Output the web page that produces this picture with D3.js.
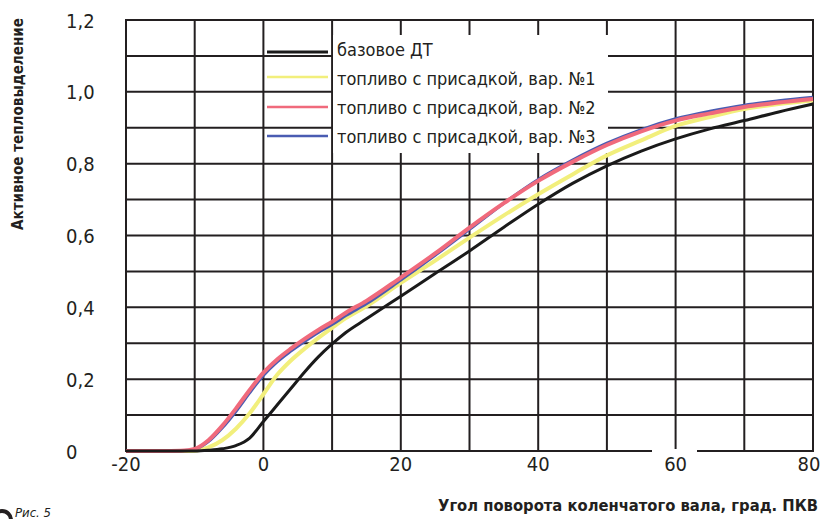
<!DOCTYPE html>
<html>
<head>
<meta charset="utf-8">
<script src="https://cdn.jsdelivr.net/npm/d3@7"></script>
<style>
  html, body { margin: 0; padding: 0; background: #fff; }
  svg { display: block; }
  text { font-family: "DejaVu Sans Condensed", "Liberation Sans", sans-serif; fill: #231f20; }
  text.title { font-family: "DejaVu Sans Condensed", "Liberation Sans", sans-serif; font-weight: bold; }
</style>
</head>
<body>
<svg id="chart" width="823" height="519"></svg>
<script>
// Crank angle, degrees
const angles = [-20, -15, -12, -10, -8, -6, -4, -2, 0, 2, 4, 6, 8, 10, 12, 15, 20, 25, 30, 35, 40, 45, 50, 55, 60, 65, 70, 75, 80];

// Active heat release, fraction
const baseFuel = [0, 0, 0, 0, 0.002, 0.006, 0.015, 0.036, 0.082, 0.128, 0.174, 0.22, 0.262, 0.298, 0.33, 0.368, 0.431, 0.494, 0.557, 0.623, 0.687, 0.745, 0.794, 0.835, 0.869, 0.897, 0.92, 0.944, 0.966];
const additive1 = [0, 0, 0, 0.001, 0.01, 0.03, 0.062, 0.105, 0.158, 0.212, 0.252, 0.285, 0.315, 0.343, 0.37, 0.403, 0.468, 0.53, 0.594, 0.656, 0.715, 0.77, 0.823, 0.865, 0.905, 0.93, 0.952, 0.966, 0.976];
const additive2 = [0, 0, 0.001, 0.006, 0.03, 0.07, 0.118, 0.17, 0.218, 0.255, 0.285, 0.312, 0.337, 0.36, 0.385, 0.418, 0.483, 0.55, 0.622, 0.69, 0.752, 0.805, 0.852, 0.89, 0.92, 0.94, 0.958, 0.97, 0.98];
const additive3 = [0, 0, 0.001, 0.005, 0.026, 0.064, 0.11, 0.162, 0.21, 0.248, 0.278, 0.305, 0.33, 0.352, 0.377, 0.41, 0.476, 0.545, 0.617, 0.69, 0.756, 0.81, 0.857, 0.895, 0.925, 0.946, 0.963, 0.975, 0.985];

const seriesNames = ["базовое ДТ", "топливо с присадкой, вар. №1", "топливо с присадкой, вар. №2", "топливо с присадкой, вар. №3"];
const seriesColors = ["#1a1a1a", "#f2ef7c", "#f06a7c", "#4a5cb2"];
const seriesWidths = [3, 4, 4, 3];

const xTicks = [-20, 0, 20, 40, 60, 80];
const yTicks = [0, 0.2, 0.4, 0.6, 0.8, 1.0, 1.2];
const yTickLabels = ["0", "0,2", "0,4", "0,6", "0,8", "1,0", "1,2"];

const svg = d3.select("#chart");
const plotLeft = 126, plotRight = 813, plotTop = 20, plotBottom = 451;

const x = d3.scaleLinear().domain([-20, 80]).range([plotLeft, plotRight]);
const y = d3.scaleLinear().domain([0, 1.2]).range([plotBottom, plotTop]);

const ink = "#231f20";

// Grid: every 10 degrees and every 0.1
const grid = svg.append("g");
grid.selectAll("line.v").data(d3.range(-20, 81, 10)).join("line")
  .attr("class", "v")
  .attr("x1", d => x(d)).attr("x2", d => x(d))
  .attr("y1", plotTop).attr("y2", plotBottom)
  .attr("stroke", ink).attr("stroke-width", 2);
grid.selectAll("line.h").data(d3.range(0, 13).map(i => i / 10)).join("line")
  .attr("class", "h")
  .attr("x1", plotLeft - 1).attr("x2", plotRight + 1)
  .attr("y1", d => y(d)).attr("y2", d => y(d))
  .attr("stroke", ink).attr("stroke-width", 2);

// Gap in the bottom axis under the "60" label
svg.append("rect").attr("x", 652).attr("y", 449).attr("width", 45).attr("height", 5).attr("fill", "#fff");

// Y tick labels (left aligned)
svg.append("g").selectAll("text").data(yTicks).join("text")
  .attr("x", 66).attr("y", d => y(d) + 7.5)
  .attr("font-size", 20)
  .text((d, i) => yTickLabels[i]);

// X tick labels; the last one is kept inside the page edge
svg.append("g").selectAll("text").data(xTicks).join("text")
  .attr("x", d => Math.min(x(d), 809)).attr("y", 471)
  .attr("text-anchor", "middle")
  .attr("font-size", 20)
  .text(d => d);

// Legend background
svg.append("rect").attr("x", 333).attr("y", 35).attr("width", 275).attr("height", 118).attr("fill", "#fff");

// Curves
const seriesData = [baseFuel, additive1, additive2, additive3];
const line = d3.line().x(d => x(d[0])).y(d => y(d[1])).curve(d3.curveMonotoneX);
const drawOrder = [1, 3, 2, 0];
svg.append("g").selectAll("path").data(drawOrder).join("path")
  .attr("d", i => line(angles.map((a, k) => [a, seriesData[i][k]])))
  .attr("fill", "none")
  .attr("stroke", i => seriesColors[i])
  .attr("stroke-width", i => seriesWidths[i])
  .attr("stroke-linejoin", "round");

// Legend entries
const legendRows = [52, 77, 107, 136];
const textRows = [49, 78, 107, 136];
const lg = svg.append("g");
seriesNames.forEach((name, i) => {
  lg.append("line")
    .attr("x1", 267).attr("x2", 328)
    .attr("y1", legendRows[i]).attr("y2", legendRows[i])
    .attr("stroke", seriesColors[i]).attr("stroke-width", i === 0 ? 3 : 2.5);
  lg.append("text")
    .attr("x", 337).attr("y", textRows[i] + 6.5)
    .attr("font-size", 18)
    .text(name);
});

// Axis titles
svg.append("text").attr("class", "title")
  .attr("transform", "translate(23,124) rotate(-90)")
  .attr("text-anchor", "middle")
  .attr("font-size", 15)
  .attr("textLength", 212).attr("lengthAdjust", "spacingAndGlyphs")
  .text("Активное тепловыделение");

svg.append("text").attr("class", "title")
  .attr("x", 818).attr("y", 511)
  .attr("text-anchor", "end")
  .attr("font-size", 16)
  .attr("textLength", 380).attr("lengthAdjust", "spacingAndGlyphs")
  .text("Угол поворота коленчатого вала, град. ПКВ");

// Figure caption
svg.append("circle").attr("cx", 2).attr("cy", 520).attr("r", 9)
  .attr("fill", "none").attr("stroke", ink).attr("stroke-width", 4);
svg.append("text")
  .attr("x", 15).attr("y", 517)
  .attr("font-size", 13).attr("font-style", "italic")
  .text("Рис. 5");
</script>
</body>
</html>
